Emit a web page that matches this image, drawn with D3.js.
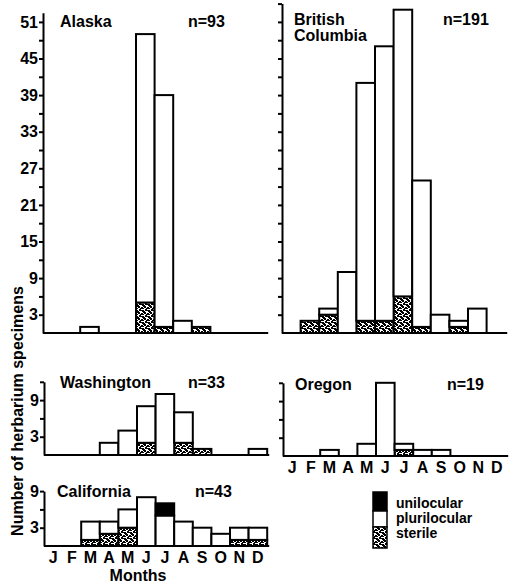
<!DOCTYPE html>
<meta charset="utf-8">
<html>
  <head>
    <script src="https://d3js.org/d3.v7.min.js"></script>
    <style>
      body { margin: 0; background: #fff; }
      text { font-family: "Liberation Sans", Arial, Helvetica, sans-serif; font-weight: bold; fill: #000; }
    </style>
  </head>
  <body>
    <div id="chart"></div>
    <script>
      var months = ["J", "F", "M", "A", "M", "J", "J", "A", "S", "O", "N", "D"];

      // counts per month: sterile / plurilocular / unilocular
      var alaskaSterile = [0, 0, 0, 0, 0, 5, 1, 0, 1, 0, 0, 0];
      var alaskaPluri   = [0, 0, 1, 0, 0, 44, 38, 2, 0, 0, 0, 0];
      var alaskaUni     = [0, 0, 0, 0, 0, 0, 0, 0, 0, 0, 0, 0];

      var bcSterile = [0, 2, 3, 0, 2, 2, 6, 1, 0, 1, 0, 0];
      var bcPluri   = [0, 0, 1, 10, 39, 45, 47, 24, 3, 1, 4, 0];
      var bcUni     = [0, 0, 0, 0, 0, 0, 0, 0, 0, 0, 0, 0];

      var waSterile = [0, 0, 0, 0, 0, 2, 0, 2, 1, 0, 0, 0];
      var waPluri   = [0, 0, 0, 2, 4, 6, 10, 5, 0, 0, 0, 1];
      var waUni     = [0, 0, 0, 0, 0, 0, 0, 0, 0, 0, 0, 0];

      var orSterile = [0, 0, 0, 0, 0, 0, 1, 0, 0, 0, 0, 0];
      var orPluri   = [0, 0, 1, 0, 2, 12, 1, 1, 1, 0, 0, 0];
      var orUni     = [0, 0, 0, 0, 0, 0, 0, 0, 0, 0, 0, 0];

      var caSterile = [0, 0, 1, 2, 3, 0, 0, 0, 0, 0, 1, 1];
      var caPluri   = [0, 0, 3, 2, 3, 8, 5, 4, 3, 2, 2, 2];
      var caUni     = [0, 0, 0, 0, 0, 0, 2, 0, 0, 0, 0, 0];

      var alaskaTicks = [3, 9, 15, 21, 27, 33, 39, 45, 51];
      var smallTicks = [3, 9];
      var legendLabels = ["unilocular", "plurilocular", "sterile"];

      var width = 514, height = 584, unit = 6.1, slot = 18.6;

      var svg = d3.select("#chart").append("svg")
          .attr("width", width)
          .attr("height", height);

      // stipple used for the sterile part of the bars
      var pat = svg.append("defs").append("pattern")
          .attr("id", "stipple")
          .attr("patternUnits", "userSpaceOnUse")
          .attr("width", 6).attr("height", 6);
      pat.append("rect").attr("width", 6).attr("height", 6).attr("fill", "#fff");
      [[0,0,2,2],[3,1,2,2],[1,3,2,2],[4,4,2,2],[0,5,1,1],[2,2,1,1],[5,0,1,1],[3,4,1,1],[5,2,1,1]].forEach(function(r) {
        pat.append("rect").attr("x", r[0]).attr("y", r[1]).attr("width", r[2]).attr("height", r[3]).attr("fill", "#000");
      });

      var fills = { sterile: "url(#stipple)", pluri: "#fff", uni: "#000" };

      function drawPanel(p) {
        var g = svg.append("g");
        var x = d3.scaleBand().domain(d3.range(12)).range([p.x0, p.x0 + 12 * slot]).padding(0);
        var y = d3.scaleLinear().domain([0, p.top]).range([p.base, p.base - p.top * unit]);

        var rows = d3.range(12).map(function(i) {
          return { i: i, sterile: p.sterile[i], pluri: p.pluri[i], uni: p.uni[i] };
        });
        var series = d3.stack().keys(["sterile", "pluri", "uni"])(rows);

        g.selectAll("g.layer")
          .data(series)
          .enter().append("g")
            .attr("fill", function(d) { return fills[d.key]; })
          .selectAll("rect")
          .data(function(d) { return d.filter(function(v) { return v[1] > v[0]; }); })
          .enter().append("rect")
            .attr("x", function(d) { return x(d.data.i); })
            .attr("width", x.bandwidth())
            .attr("y", function(d) { return y(d[1]); })
            .attr("height", function(d) { return y(d[0]) - y(d[1]); })
            .attr("stroke", "#000")
            .attr("stroke-width", 2);

        // y axis: ticks every 3, labels only on some
        var ticks = d3.range(3, p.top + 0.1, 3);
        var yAxis = d3.axisLeft(y)
            .tickValues(ticks)
            .tickSize(4)
            .tickSizeOuter(0)
            .tickPadding(1)
            .tickFormat(function(d) { return p.labels.indexOf(d) >= 0 ? d : ""; });
        var ax = g.append("g").attr("transform", "translate(" + p.x0 + ",0)").call(yAxis);
        ax.select(".domain").attr("stroke-width", 2);
        ax.selectAll(".tick line").attr("stroke-width", 2);
        ax.selectAll(".tick text")
          .style("font-family", "'Liberation Sans', Arial, sans-serif")
          .style("font-weight", "bold")
          .style("font-size", "16px");

        // baseline
        g.append("line")
          .attr("x1", p.x0).attr("x2", p.x0 + 12 * slot + 2)
          .attr("y1", p.base).attr("y2", p.base)
          .attr("stroke", "#000").attr("stroke-width", 2);

        p.title.forEach(function(t, k) {
          g.append("text")
            .attr("x", p.titleX).attr("y", p.titleY + k * 16)
            .style("font-size", "16px")
            .text(t);
        });
        g.append("text")
          .attr("x", p.nX).attr("y", p.titleY)
          .style("font-size", "16px")
          .text(p.n);

        if (p.months) {
          g.selectAll("text.month")
            .data(months)
            .enter().append("text")
              .attr("class", "month")
              .attr("x", function(d, i) { return x(i) + x.bandwidth() / 2; })
              .attr("y", p.base + 17)
              .attr("text-anchor", "middle")
              .style("font-size", "16px")
              .text(function(d) { return d; });
        }
      }

      drawPanel({ x0: 43, base: 333, top: 52.5, sterile: alaskaSterile, pluri: alaskaPluri, uni: alaskaUni,
                  labels: alaskaTicks, title: ["Alaska"], titleX: 60, titleY: 27, n: "n=93", nX: 188 });
      drawPanel({ x0: 282, base: 333, top: 54, sterile: bcSterile, pluri: bcPluri, uni: bcUni,
                  labels: [], title: ["British", "Columbia"], titleX: 294, titleY: 25, n: "n=191", nX: 443 });
      drawPanel({ x0: 44, base: 455, top: 12, sterile: waSterile, pluri: waPluri, uni: waUni,
                  labels: smallTicks, title: ["Washington"], titleX: 60, titleY: 388, n: "n=33", nX: 188 });
      drawPanel({ x0: 283, base: 456, top: 12, sterile: orSterile, pluri: orPluri, uni: orUni,
                  labels: [], title: ["Oregon"], titleX: 295, titleY: 390, n: "n=19", nX: 447, months: true });
      drawPanel({ x0: 44, base: 546, top: 9, sterile: caSterile, pluri: caPluri, uni: caUni,
                  labels: smallTicks, title: ["California"], titleX: 57, titleY: 497, n: "n=43", nX: 195, months: true });

      // axis titles
      svg.append("text")
        .attr("transform", "translate(23,411) rotate(-90)")
        .attr("text-anchor", "middle")
        .style("font-size", "16px")
        .text("Number of herbarium specimens");
      svg.append("text")
        .attr("x", 138).attr("y", 581)
        .attr("text-anchor", "middle")
        .style("font-size", "16px")
        .text("Months");

      // legend
      var legendFills = ["#000", "#fff", "url(#stipple)"];
      var legendY = [492, 511, 527];
      var legendH = [19, 16, 21];
      var lg = svg.append("g");
      legendFills.forEach(function(f, i) {
        lg.append("rect")
          .attr("x", 373).attr("y", legendY[i])
          .attr("width", 14).attr("height", legendH[i])
          .attr("fill", f).attr("stroke", "#000").attr("stroke-width", 1.5);
      });
      lg.selectAll("text")
        .data(legendLabels)
        .enter().append("text")
          .attr("x", 396)
          .attr("y", function(d, i) { return 508 + i * 15; })
          .style("font-size", "14px")
          .text(function(d) { return d; });
    </script>
  </body>
</html>
